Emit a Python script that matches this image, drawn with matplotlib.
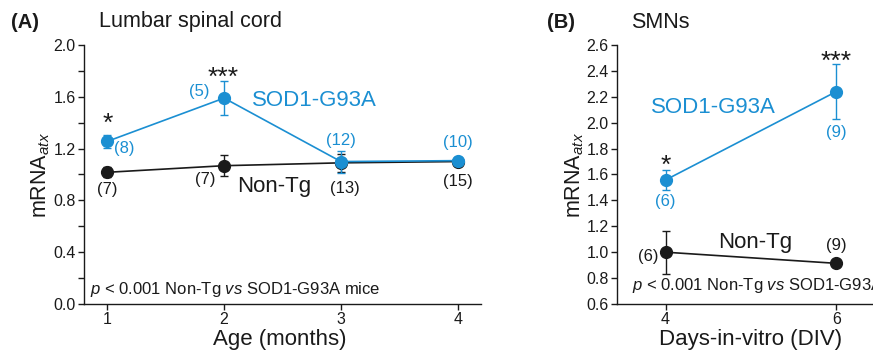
import matplotlib
matplotlib.use("Agg")
import matplotlib.pyplot as plt
from matplotlib.ticker import MultipleLocator

plt.rcParams['font.family'] = ['Liberation Sans', 'DejaVu Sans']
plt.rcParams['mathtext.fontset'] = 'custom'
plt.rcParams['mathtext.rm'] = 'Liberation Sans'
plt.rcParams['mathtext.it'] = 'Liberation Sans:italic'

BLUE = '#1b8fd2'
BLACK = '#1a1a1a'

# Panel A data
age = [1, 2, 3, 4]
sod_a = [1.256, 1.59, 1.10, 1.107]
sod_a_err = [0.05, 0.13, 0.085, 0.03]
non_a = [1.017, 1.068, 1.09, 1.10]
non_a_err = [0.04, 0.08, 0.07, 0.02]
sod_a_n = ['(8)', '(5)', '(12)', '(10)']
non_a_n = ['(7)', '(7)', '(13)', '(15)']
yticks_a = [0.0, 0.4, 0.8, 1.2, 1.6, 2.0]

# Panel B data
div = [4, 6]
sod_b = [1.558, 2.24]
sod_b_err = [0.08, 0.21]
non_b = [1.0, 0.914]
non_b_err = [0.167, 0.0]
sod_b_n = ['(6)', '(9)']
non_b_n = ['(6)', '(9)']
yticks_b = [0.6, 0.8, 1.0, 1.2, 1.4, 1.6, 1.8, 2.0, 2.2, 2.4, 2.6]

fig = plt.figure(figsize=(8.73, 3.52), dpi=100)
axA_w = (481 - 84)
axB_w = 0.34 * 873
axA = fig.add_axes([84/873, 48/352, axA_w/873, 259/352])
axB = fig.add_axes([617/873, 48/352, 0.34, 259/352])

def style(ax):
    for s in ['top', 'right']:
        ax.spines[s].set_visible(False)
    for s in ['left', 'bottom']:
        ax.spines[s].set_linewidth(1.0)
        ax.spines[s].set_color(BLACK)
    ax.tick_params(axis='both', which='both', direction='out', colors=BLACK,
                   labelsize=11.5, width=1.0)
    ax.tick_params(axis='both', which='major', length=4, pad=2)
    ax.tick_params(axis='y', which='minor', length=4)

ms = 8.5
kw = dict(marker='o', markersize=ms, linewidth=1.2, capsize=3, elinewidth=1.0,
          capthick=1.0)

# ---- Panel A ----
style(axA)
axA.errorbar(age, non_a, yerr=non_a_err, color=BLACK, zorder=3, **kw)
axA.errorbar(age, sod_a, yerr=sod_a_err, color=BLUE, zorder=4, **kw)
axA.set_xlim(0.80, 4.2)
axA.set_ylim(0.0, 2.0)
axA.set_xticks(age)
axA.set_yticks(yticks_a)
axA.yaxis.set_minor_locator(MultipleLocator(0.2))
axA.yaxis.set_major_formatter(matplotlib.ticker.FormatStrFormatter('%.1f'))
axA.set_xlabel('Age (months)', fontsize=16, color=BLACK, va='center')
axA.xaxis.set_label_coords((280 - 84) / axA_w, -36 / 259)
axA.set_ylabel(r'mRNA$_{\mathit{atx}}$', fontsize=15.5, color=BLACK, va='center')
axA.yaxis.set_label_coords((41 - 84) / axA_w, 0.5)

fs_n = 12
sod_a_pos = [(1.146, 1.20), (1.79, 1.64), (3.0, 1.259), (4.0, 1.246)]
non_a_pos = [(1.0, 0.886), (1.84, 0.958), (3.03, 0.893), (4.0, 0.945)]
for t, (x, y) in zip(sod_a_n, sod_a_pos):
    axA.text(x, y, t, color=BLUE, fontsize=fs_n, ha='center', va='center')
for t, (x, y) in zip(non_a_n, non_a_pos):
    axA.text(x, y, t, color=BLACK, fontsize=fs_n, ha='center', va='center')
axA.text(1.0, 1.39, '*', fontsize=19, ha='center', va='center', color=BLACK)
axA.text(1.99, 1.75, '***', fontsize=19, ha='center', va='center', color=BLACK)
axA.text(2.24, 1.575, 'SOD1-G93A', color=BLUE, fontsize=16, ha='left', va='center')
axA.text(2.11, 0.906, 'Non-Tg', color=BLACK, fontsize=16, ha='left', va='center')
axA.text(0.85, 0.113, r'$p$ < 0.001 Non-Tg $vs$ SOD1-G93A mice', fontsize=12,
         ha='left', va='center', color=BLACK)

# ---- Panel B ----
style(axB)
axB.errorbar(div, non_b, yerr=non_b_err, color=BLACK, zorder=3, **kw)
axB.errorbar(div, sod_b, yerr=sod_b_err, color=BLUE, zorder=4, **kw)
px_per_unit = 85.3
axB.set_xlim(3.43, 3.43 + axB_w / px_per_unit)
axB.set_ylim(0.6, 2.6)
axB.set_xticks(div)
axB.set_yticks(yticks_b)
axB.yaxis.set_major_formatter(matplotlib.ticker.FormatStrFormatter('%.1f'))
axB.set_xlabel('Days-in-vitro (DIV)', fontsize=16, color=BLACK, va='center')
axB.xaxis.set_label_coords((751 - 617) / axB_w, -36 / 259)
axB.set_ylabel(r'mRNA$_{\mathit{atx}}$', fontsize=15.5, color=BLACK, va='center')
axB.yaxis.set_label_coords((575 - 617) / axB_w, 0.5)

sod_b_pos = [(4.0, 1.39), (6.0, 1.926)]
non_b_pos = [(3.80, 0.965), (6.0, 1.048)]
for t, (x, y) in zip(sod_b_n, sod_b_pos):
    axB.text(x, y, t, color=BLUE, fontsize=fs_n, ha='center', va='center')
for t, (x, y) in zip(non_b_n, non_b_pos):
    axB.text(x, y, t, color=BLACK, fontsize=fs_n, ha='center', va='center')
axB.text(4.0, 1.67, '*', fontsize=19, ha='center', va='center', color=BLACK)
axB.text(6.0, 2.47, '***', fontsize=19, ha='center', va='center', color=BLACK)
axB.text(3.83, 2.12, 'SOD1-G93A', color=BLUE, fontsize=16, ha='left', va='center')
axB.text(4.62, 1.076, 'Non-Tg', color=BLACK, fontsize=16, ha='left', va='center')
axB.text(3.60, 0.741, r'$p$ < 0.001 Non-Tg $vs$ SOD1-G93A mice', fontsize=12,
         ha='left', va='center', color=BLACK)

# Panel titles
fig.text(11/873, 1 - 22/352, '(A)', fontsize=14.5, fontweight='bold', va='center', ha='left', color=BLACK)
fig.text(99/873, 1 - 22/352, 'Lumbar spinal cord', fontsize=15.5, va='center', ha='left', color=BLACK)
fig.text(547/873, 1 - 22/352, '(B)', fontsize=14.5, fontweight='bold', va='center', ha='left', color=BLACK)
fig.text(631/873, 1 - 22/352, 'SMNs', fontsize=15.5, va='center', ha='left', color=BLACK)

fig.savefig('out.png', dpi=100)
